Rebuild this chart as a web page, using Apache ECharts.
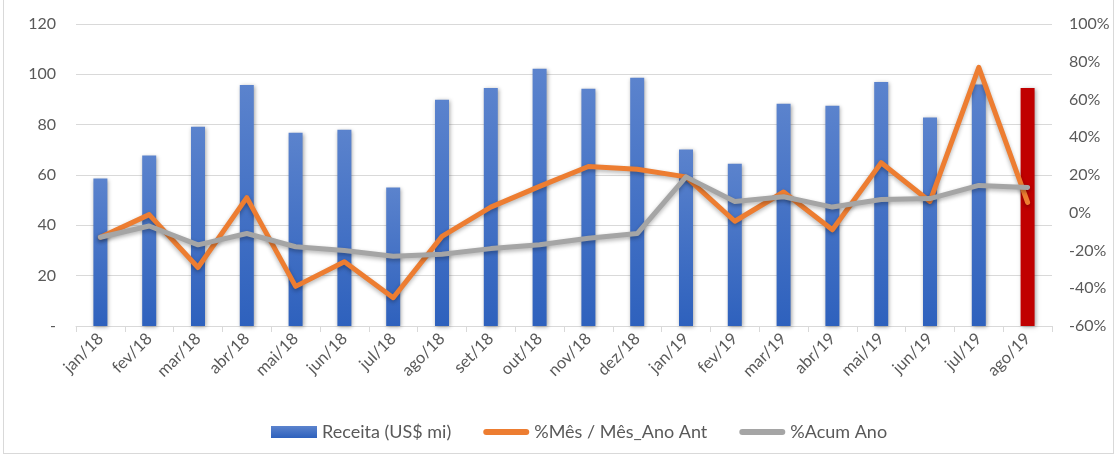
<!DOCTYPE html>
<html><head><meta charset="utf-8">
<script src="https://cdn.jsdelivr.net/npm/echarts@6/dist/echarts.min.js"></script>
<style>html,body{margin:0;padding:0;background:#fff}#c{position:absolute;left:3px;top:0;width:1111px;height:454px;border:1px solid #d9d9d9;border-top:none;box-sizing:border-box}</style>
</head><body><div id="c"></div>
<script>
const categories = ['jan/18','fev/18','mar/18','abr/18','mai/18','jun/18','jul/18','ago/18','set/18','out/18','nov/18','dez/18','jan/19','fev/19','mar/19','abr/19','mai/19','jun/19','jul/19','ago/19'];
const receita = [58.6,67.7,79.2,95.8,76.8,78,55,89.9,94.6,102.2,94.3,98.6,70.1,64.5,88.3,87.5,97,82.8,96,94.6];
const mesAnoAnt = [-13,-1,-29,8,-39,-26,-45,-12.5,3,14,24.5,23,19,-4.5,11,-9,26.5,6,77,5.5];
const acumAno = [-13,-7,-17,-11,-18,-20,-23,-22,-19,-17,-13.5,-11,19,6,8.5,3,7,7.5,14.5,13.4];
const leftTicks = {min:0,max:120,interval:20};
const rightTicks = {min:-60,max:100,interval:20};

const FONT = 'Lato';
const chart = echarts.init(document.getElementById('c'));
const blueGrad = new echarts.graphic.LinearGradient(0,0,0,1,[{offset:0,color:'#5b83cd'},{offset:1,color:'#2e61bd'}]);
const lastIdx = categories.length - 1;
const lineIcon = 'path://M3,0 H43 A3,3 0 0 1 43,6 H3 A3,3 0 0 1 3,0 Z';
chart.setOption({
  animation:false,
  textStyle:{fontFamily:FONT},
  grid:{left:72,right:61,top:24,bottom:127,containLabel:false},
  legend:{
    bottom:7,left:262,itemWidth:46,itemHeight:12,itemGap:32,
    textStyle:{fontFamily:FONT,fontSize:18,color:'#595959'},
    data:[
      {name:'Receita (US$ mi)',icon:'rect'},
      {name:'%Mês / Mês_Ano Ant',icon:lineIcon},
      {name:'%Acum Ano',icon:lineIcon}
    ]
  },
  xAxis:{
    type:'category',data:categories,
    axisLine:{lineStyle:{color:'#d9d9d9',width:1}},
    axisTick:{show:true,length:6,lineStyle:{color:'#d9d9d9'}},
    axisLabel:{rotate:45,fontSize:16.5,color:'#595959',margin:10,fontFamily:FONT}
  },
  yAxis:[
    {type:'value',min:leftTicks.min,max:leftTicks.max,interval:leftTicks.interval,
     axisLine:{show:false},axisTick:{show:false},
     splitLine:{lineStyle:{color:'#d9d9d9',width:1}},
     axisLabel:{fontSize:16,color:'#595959',margin:20,fontFamily:FONT,formatter:v=>v===0?'-':String(v)}},
    {type:'value',min:rightTicks.min,max:rightTicks.max,interval:rightTicks.interval,
     axisLine:{show:false},axisTick:{show:false},splitLine:{show:false},
     axisLabel:{fontSize:16,color:'#595959',margin:17,fontFamily:FONT,formatter:v=>v+'%'}}
  ],
  series:[
    {name:'Receita (US$ mi)',type:'bar',barWidth:14,yAxisIndex:0,
     itemStyle:{color:blueGrad,shadowBlur:4,shadowColor:'rgba(0,0,0,0.35)',shadowOffsetX:1,shadowOffsetY:1},
     data:receita.map((v,i)=>i===lastIdx?{value:v,itemStyle:{color:'#c00000'}}:v)},
    {name:'%Mês / Mês_Ano Ant',type:'line',yAxisIndex:1,data:mesAnoAnt,showSymbol:false,symbol:'none',
     color:'#ed7d31',
     lineStyle:{width:5,color:'#ed7d31',cap:'round',join:'round',shadowBlur:4,shadowColor:'rgba(0,0,0,0.3)',shadowOffsetY:2}},
    {name:'%Acum Ano',type:'line',yAxisIndex:1,data:acumAno,showSymbol:false,symbol:'none',
     color:'#a5a5a5',z:3,
     lineStyle:{width:5,color:'#a5a5a5',cap:'round',join:'round',shadowBlur:4,shadowColor:'rgba(0,0,0,0.3)',shadowOffsetY:2}}
  ]
});
</script></body></html>
